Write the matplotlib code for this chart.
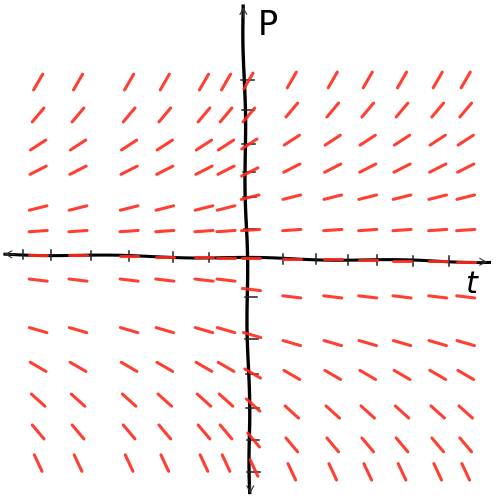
import numpy as np
import matplotlib
matplotlib.use("Agg")
import matplotlib.pyplot as plt

# hand-drawn slope field for dP/dt
t_left = [-5.91, -4.77, -3.31, -2.29, -1.17, -0.54]
t_right = [1.34, 2.51, 3.51, 4.49, 5.51, 6.31]
p_left = [5.03, 4.09, 3.23, 2.51, 1.43, 0.77, 0.0, -0.63, -2.06, -3.11, -4.06, -4.97, -5.86]
p_right = [5.09, 4.23, 3.37, 2.57, 1.74, 0.80, 0.0, -1.11, -2.43, -3.34, -4.40, -5.34, -6.11]
p_center = [5.06, 4.09, 3.26, 2.46, 1.74, 0.80, 0.0, -0.90, -2.20, -3.30, -4.20, -5.20, -6.00]
slopes = [1.73, 1.19, 0.65, 0.51, 0.25, 0.07, 0.0, -0.12, -0.29, -0.58, -0.90, -1.19, -2.14]

x_ticks = [-6.34, -5.54, -4.4, -3.31, -2.06, -1.03, 1.09, 2.03, 2.94, 3.77, 4.8, 5.83]
y_ticks = [5.09, 4.23, 3.26, 2.46, 1.74, 0.83, -1.11, -2.31, -3.31, -4.29, -5.2, -6.11]

RED = "#ff2a1a"
seg_len = 0.52

fig = plt.figure(figsize=(5, 5), dpi=100)
ax = fig.add_axes([0, 0, 1, 1])
ax.set_xlim(-7.0, 7.29)
ax.set_ylim(-6.91, 7.37)
ax.set_aspect("equal")
ax.axis("off")


def tilt(t):
    # the drawn t-axis sags a little to the right
    return 0.11 - 0.016 * (t + 6.86)


def yaxis_x(p):
    return -0.05 + 0.2 * (7.2 - p) / 13.9


# axes
xl, = ax.plot([-6.86, 6.99], [tilt(-6.86), tilt(6.99)], color="black", lw=2.2, zorder=2)
yl, = ax.plot([-0.05, 0.15], [7.2, -6.7], color="black", lw=2.4, zorder=2)
for ln in (xl, yl):
    ln.set_sketch_params(scale=0.8, length=150, randomness=1.5)
arrow = dict(arrowstyle="->,head_width=0.25,head_length=0.45", lw=0.8, color="#333333")
ax.annotate("", xy=(-6.95, tilt(-6.95)), xytext=(-6.5, tilt(-6.5)), arrowprops=arrow)
ax.annotate("", xy=(7.0, tilt(7.0)), xytext=(6.5, tilt(6.5)), arrowprops=arrow)
ax.annotate("", xy=(-0.05, 7.25), xytext=(-0.04, 6.8), arrowprops=arrow)
ax.annotate("", xy=(0.16, -6.8), xytext=(0.15, -6.4), arrowprops=arrow)

# ticks
for t in x_ticks:
    ax.plot([t, t], [tilt(t) - 0.14, tilt(t) + 0.14], color="#222222", lw=1.1, zorder=2)
for p in y_ticks:
    xc = yaxis_x(p)
    ax.plot([xc - 0.08, xc + 0.28], [p, p], color="#222222", lw=1.1, zorder=2)

ax.text(0.37, 6.66, "P", fontsize=24, color="black", ha="left", va="center")
ax.text(6.3, -0.75, "t", fontsize=22, color="black", style="italic", ha="left", va="center")


def seg(t, p, m):
    d = seg_len / 2 / np.hypot(1, m)
    ax.plot([t - d, t + d], [p - m * d, p + m * d], color=RED, lw=2.2,
            alpha=0.9, solid_capstyle="round", zorder=3)


for i, m in enumerate(slopes):
    for t in t_left:
        p = p_left[i] if i != 6 else tilt(t)
        seg(t, p, m)
    for t in t_right:
        p = p_right[i] if i != 6 else tilt(t)
        seg(t, p, m)
    seg(yaxis_x(p_center[i]) + 0.12, p_center[i], m)

fig.savefig("out.png", dpi=100)
